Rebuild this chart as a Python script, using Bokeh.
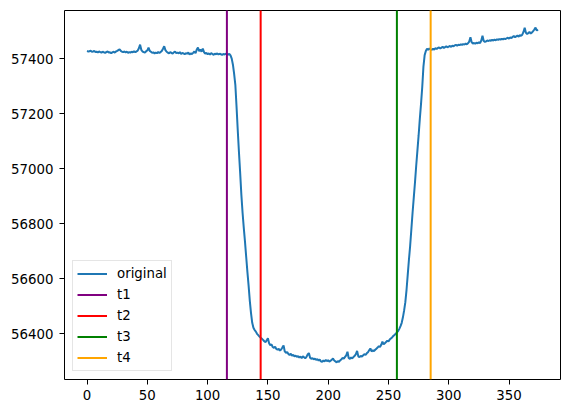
import math
from bokeh.plotting import figure
from bokeh.models import FixedTicker, Range1d
from bokeh.embed import file_html
from bokeh.resources import INLINE

# ---- data ----
flux_pre = [
    57428, 57426, 57427, 57429, 57425, 57426, 57428, 57424, 57425, 57423,
    57426, 57424, 57422, 57425, 57423, 57421, 57424, 57426, 57422, 57423,
    57420, 57423, 57425, 57422, 57426, 57428, 57431, 57434, 57428, 57425,
    57424, 57426, 57423, 57425, 57421, 57424, 57422, 57425, 57423, 57427,
    57424, 57426, 57429, 57438, 57451, 57432, 57426, 57424, 57422, 57427,
    57430, 57440, 57428, 57425, 57421, 57423, 57419, 57422, 57420, 57424,
    57421, 57424, 57428, 57436, 57445, 57431, 57425, 57422, 57419, 57424,
    57421, 57418, 57423, 57426, 57420, 57422, 57419, 57424, 57417, 57421,
    57419, 57416, 57420, 57418, 57422, 57415, 57419, 57417, 57421, 57426,
    57420, 57433, 57440, 57427, 57433, 57425, 57437, 57424, 57418, 57421,
    57416, 57419, 57415, 57420, 57417, 57414, 57418, 57416, 57419, 57415,
    57418, 57416, 57414, 57417, 57415, 57418, 57416, 57415, 57417, 57412,
]
flux_ingress = [
    57400, 57378, 57345, 57305, 57225, 57140, 57060, 56985, 56905, 56840,
    56785, 56735, 56680, 56625, 56575, 56520, 56475, 56440, 56422, 56414,
    56408, 56400, 56395, 56390,
]
flux_bottom = [
    56386, 56382, 56378, 56373, 56370, 56376, 56384, 56366, 56358, 56362,
    56352, 56349, 56353, 56345, 56342, 56346, 56339, 56343, 56350, 56358,
    56336, 56331, 56334, 56327, 56323, 56328, 56320, 56324, 56318, 56321,
    56316, 56319, 56314, 56317, 56312, 56318, 56315, 56311, 56316, 56325,
    56330, 56313, 56309, 56312, 56307, 56310, 56305, 56308, 56303, 56306,
    56300, 56298, 56303, 56300, 56305, 56301, 56304, 56299, 56302, 56306,
    56310, 56303, 56300, 56296, 56301, 56298, 56304, 56307, 56313, 56310,
    56316, 56322, 56335, 56312, 56309, 56314, 56311, 56316, 56320, 56326,
    56338, 56318, 56315, 56320, 56317, 56322, 56326, 56323, 56329, 56333,
    56340, 56347, 56336, 56340, 56337, 56342, 56346, 56350, 56355, 56352,
    56360, 56372, 56362, 56366, 56370, 56375, 56372, 56379, 56383, 56387,
    56392, 56396, 56400,
]
flux_egress = [
    56405, 56410, 56418, 56428, 56440, 56460, 56485, 56515, 56560, 56615,
    56670, 56720, 56780, 56840, 56895, 56950, 57010, 57065, 57120, 57180,
    57235, 57295, 57370, 57412, 57428, 57436, 57432, 57437, 57434,
]
flux_post = [
    57432, 57436, 57433, 57438, 57435, 57439, 57441, 57437, 57440, 57443,
    57439, 57442, 57445, 57441, 57444, 57446, 57443, 57447, 57445, 57448,
    57450, 57447, 57451, 57449, 57452, 57450, 57453, 57451, 57455, 57452,
    57456, 57462, 57478, 57460, 57455, 57457, 57454, 57458, 57456, 57459,
    57457, 57466, 57483, 57464, 57461, 57463, 57466, 57464, 57467, 57465,
    57468, 57466, 57469, 57467, 57470, 57468, 57471, 57469, 57472, 57470,
    57473, 57471, 57474, 57476, 57473, 57477, 57475, 57479, 57482, 57478,
    57481, 57484, 57480, 57485, 57483, 57487, 57497, 57512, 57494, 57490,
    57493, 57497, 57491, 57495, 57500, 57506, 57513, 57502, 57506,
]
flux = flux_pre + flux_ingress + flux_bottom + flux_egress + flux_post
frames = list(range(len(flux)))

t_names = ["t1", "t2", "t3", "t4"]
t_values = [116, 144, 257, 285]
t_colors = ["purple", "red", "green", "orange"]

x_ticks = [0, 50, 100, 150, 200, 250, 300, 350]
y_ticks = [56400, 56600, 56800, 57000, 57200, 57400]

X_START, X_END = -18.7, 392.7
Y_START, Y_END = 56234, 57575

FONT = "DejaVu Sans"

p = figure(width=569, height=413, output_backend="svg", toolbar_location=None,
           x_range=Range1d(X_START, X_END), y_range=Range1d(Y_START, Y_END),
           min_border_left=64, min_border_right=9, min_border_top=10,
           min_border_bottom=34)

p.line(frames, flux, line_color="#1f77b4", line_width=2, legend_label="original")
for name, tv, col in zip(t_names, t_values, t_colors):
    p.ray(x=[tv], y=[Y_START], length=0, angle=math.pi / 2,
          line_color=col, line_width=2, legend_label=name)

p.grid.visible = False
p.outline_line_color = "black"
p.outline_line_width = 1
p.outline_line_alpha = 1
p.background_fill_color = "white"
p.border_fill_color = "white"

for ax, ticks, standoff in ((p.xaxis, x_ticks, 5), (p.yaxis, y_ticks, 6)):
    ax.ticker = FixedTicker(ticks=ticks)
    ax.axis_line_color = None
    ax.major_tick_line_color = "black"
    ax.major_tick_out = 5
    ax.major_tick_in = 0
    ax.minor_tick_line_color = None
    ax.major_label_text_font = FONT
    ax.major_label_text_font_size = "10pt"
    ax.major_label_text_color = "black"
    ax.major_label_standoff = standoff

leg = p.legend[0]
leg.location = "bottom_left"
leg.margin = 8
leg.padding = 4
leg.spacing = 4
leg.glyph_width = 30
leg.glyph_height = 17
leg.label_height = 17
leg.label_standoff = 10
leg.label_text_font = FONT
leg.label_text_font_size = "10pt"
leg.label_text_color = "black"
leg.border_line_color = "#cccccc"
leg.border_line_width = 1
leg.background_fill_alpha = 0.8

open("out.html", "w").write(file_html(p, INLINE))
